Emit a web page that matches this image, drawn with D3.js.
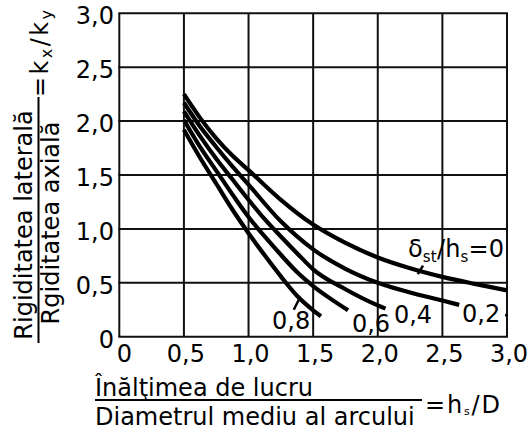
<!DOCTYPE html>
<html><head><meta charset="utf-8">
<script src="https://cdn.jsdelivr.net/npm/d3@7"></script>
<style>
html,body{margin:0;padding:0;background:#fff;}
svg{display:block;font-family:"DejaVu Sans",Verdana,sans-serif;}
</style></head>
<body>
<svg id="c" width="528" height="433"></svg>
<script>
// ---- data ----
const xTickValues = [0, 0.5, 1.0, 1.5, 2.0, 2.5, 3.0];
const xTickLabels = ["0", "0,5", "1,0", "1,5", "2,0", "2,5", "3,0"];
const yTickValues = [0, 0.5, 1.0, 1.5, 2.0, 2.5, 3.0];
const yTickLabels = ["0", "0,5", "1,0", "1,5", "2,0", "2,5", "3,0"];

const seriesNames = ["0", "0,2", "0,4", "0,6", "0,8"];
const curve00 = [[0.5,2.25],[0.625,2.03],[0.75,1.84],[0.875,1.68],[1.0,1.545],[1.25,1.27],[1.5,1.04],[1.75,0.87],[2.0,0.735],[2.25,0.635],[2.5,0.555],[2.75,0.49],[3.0,0.43]];
const curve02 = [[0.5,2.17],[0.625,1.95],[0.75,1.76],[0.875,1.58],[1.0,1.41],[1.25,1.07],[1.5,0.81],[1.75,0.63],[2.0,0.5],[2.25,0.41],[2.5,0.335],[2.63,0.295]];
const curve04 = [[0.5,2.09],[0.625,1.86],[0.75,1.65],[0.875,1.46],[1.0,1.27],[1.125,1.09],[1.25,0.93],[1.375,0.775],[1.5,0.625],[1.75,0.44],[2.0,0.29],[2.06,0.26]];
const curve06 = [[0.5,2.01],[0.625,1.76],[0.75,1.54],[0.875,1.32],[1.0,1.11],[1.125,0.93],[1.25,0.76],[1.375,0.6],[1.5,0.47],[1.625,0.36],[1.77,0.245]];
const curve08 = [[0.5,1.92],[0.625,1.66],[0.75,1.42],[0.875,1.18],[1.0,0.96],[1.125,0.755],[1.25,0.56],[1.375,0.38],[1.5,0.245],[1.56,0.19]];
const curves = [curve00, curve02, curve04, curve06, curve08];

// curve labels (data coordinates of label anchor)
const labelTexts = ["0,8", "0,6", "0,4", "0,2"];
const labelPos = [[1.33,0.071],[1.948,0.044],[2.273,0.127],[2.80,0.137]];
// leader lines (data coordinates)
const leaders = [
  [[1.35,0.25],[1.39,0.345]],
  [[2.35,0.66],[2.31,0.58]],
  [[2.985,0.2],[3.0,0.2]]
];

// ---- layout ----
const svg = d3.select("#c");
const x = d3.scaleLinear().domain([0, 3]).range([119.3, 507]);
const y = d3.scaleLinear().domain([0, 3]).range([336.7, 13.3]);
const FS = 24;

// grid
const grid = svg.append("g").attr("stroke", "#111").attr("stroke-width", 2);
grid.selectAll("line.v").data(xTickValues).join("line")
  .attr("x1", d => x(d)).attr("x2", d => x(d))
  .attr("y1", y(0)).attr("y2", y(3));
grid.selectAll("line.h").data(yTickValues).join("line")
  .attr("class","h")
  .attr("y1", d => y(d)).attr("y2", d => y(d))
  .attr("x1", x(0) - 1).attr("x2", x(3) + 1);

// tick labels
svg.append("g").selectAll("text").data(xTickValues).join("text")
  .attr("x", (d, i) => x(d) + (i === 0 ? 5 : 2))
  .attr("y", 362)
  .attr("text-anchor", "middle")
  .attr("font-size", FS)
  .text((d, i) => xTickLabels[i]);
svg.append("g").selectAll("text").data(yTickValues).join("text")
  .attr("x", 114)
  .attr("y", d => y(d) + 11)
  .attr("text-anchor", "end")
  .attr("font-size", FS)
  .text((d, i) => yTickLabels[i]);

// curves
const line = d3.line().x(d => x(d[0])).y(d => y(d[1])).curve(d3.curveMonotoneX);
svg.append("g").selectAll("path").data(curves).join("path")
  .attr("d", line)
  .attr("fill", "none")
  .attr("stroke", "#000")
  .attr("stroke-width", 4.2);

// leaders
svg.append("g").selectAll("line").data(leaders).join("line")
  .attr("x1", d => x(d[0][0])).attr("y1", d => y(d[0][1]))
  .attr("x2", d => x(d[1][0])).attr("y2", d => y(d[1][1]))
  .attr("stroke", "#000").attr("stroke-width", 2.5);

// curve labels
svg.append("g").selectAll("text").data(labelTexts).join("text")
  .attr("x", (d, i) => x(labelPos[i][0]))
  .attr("y", (d, i) => y(labelPos[i][1]))
  .attr("text-anchor", "middle")
  .attr("font-size", FS)
  .text(d => d);

// delta label
const dl = svg.append("text")
  .attr("x", x(2.977)).attr("y", y(0.739))
  .attr("text-anchor", "end")
  .attr("font-size", FS)
  .attr("textLength", 96).attr("lengthAdjust", "spacing");
dl.append("tspan").text("δ");
dl.append("tspan").attr("font-size", 15).attr("dy", 5).text("st");
dl.append("tspan").attr("dy", -5).text("/h");
dl.append("tspan").attr("font-size", 15).attr("dy", 5).text("s");
dl.append("tspan").attr("dy", -5).text("=" + seriesNames[0]);

// x title
svg.append("text").attr("x", 95).attr("y", 396).attr("font-size", FS).text("Înălţimea de lucru");
svg.append("line").attr("x1", 95).attr("x2", 422).attr("y1", 400).attr("y2", 400)
  .attr("stroke", "#000").attr("stroke-width", 2);
svg.append("text").attr("x", 95).attr("y", 425).attr("font-size", FS).text("Diametrul mediu al arcului");
const xt = svg.append("text").attr("x", 425).attr("y", 413).attr("font-size", FS)
  .attr("textLength", 75).attr("lengthAdjust", "spacing");
xt.append("tspan").text("=h");
xt.append("tspan").attr("font-size", 11).attr("dy", 2).text("s");
xt.append("tspan").attr("dy", -2).text("/D");

// y title (rotated)
svg.append("text").attr("transform", "translate(32,225) rotate(-90)")
  .attr("text-anchor", "middle").attr("font-size", FS).text("Rigiditatea laterală");
svg.append("line").attr("x1", 38.5).attr("x2", 38.5).attr("y1", 97).attr("y2", 343)
  .attr("stroke", "#000").attr("stroke-width", 2);
svg.append("text").attr("transform", "translate(59,223) rotate(-90)")
  .attr("text-anchor", "middle").attr("font-size", FS).text("Rgiditatea axială");
const yt = svg.append("text").attr("transform", "translate(48,97) rotate(-90)")
  .attr("font-size", FS).attr("textLength", 87).attr("lengthAdjust", "spacing");
yt.append("tspan").text("=k");
yt.append("tspan").attr("font-size", 16).attr("dy", 4).text("x");
yt.append("tspan").attr("dy", -4).text("/k");
yt.append("tspan").attr("font-size", 16).attr("dy", 4).text("y");
</script>
</body></html>
